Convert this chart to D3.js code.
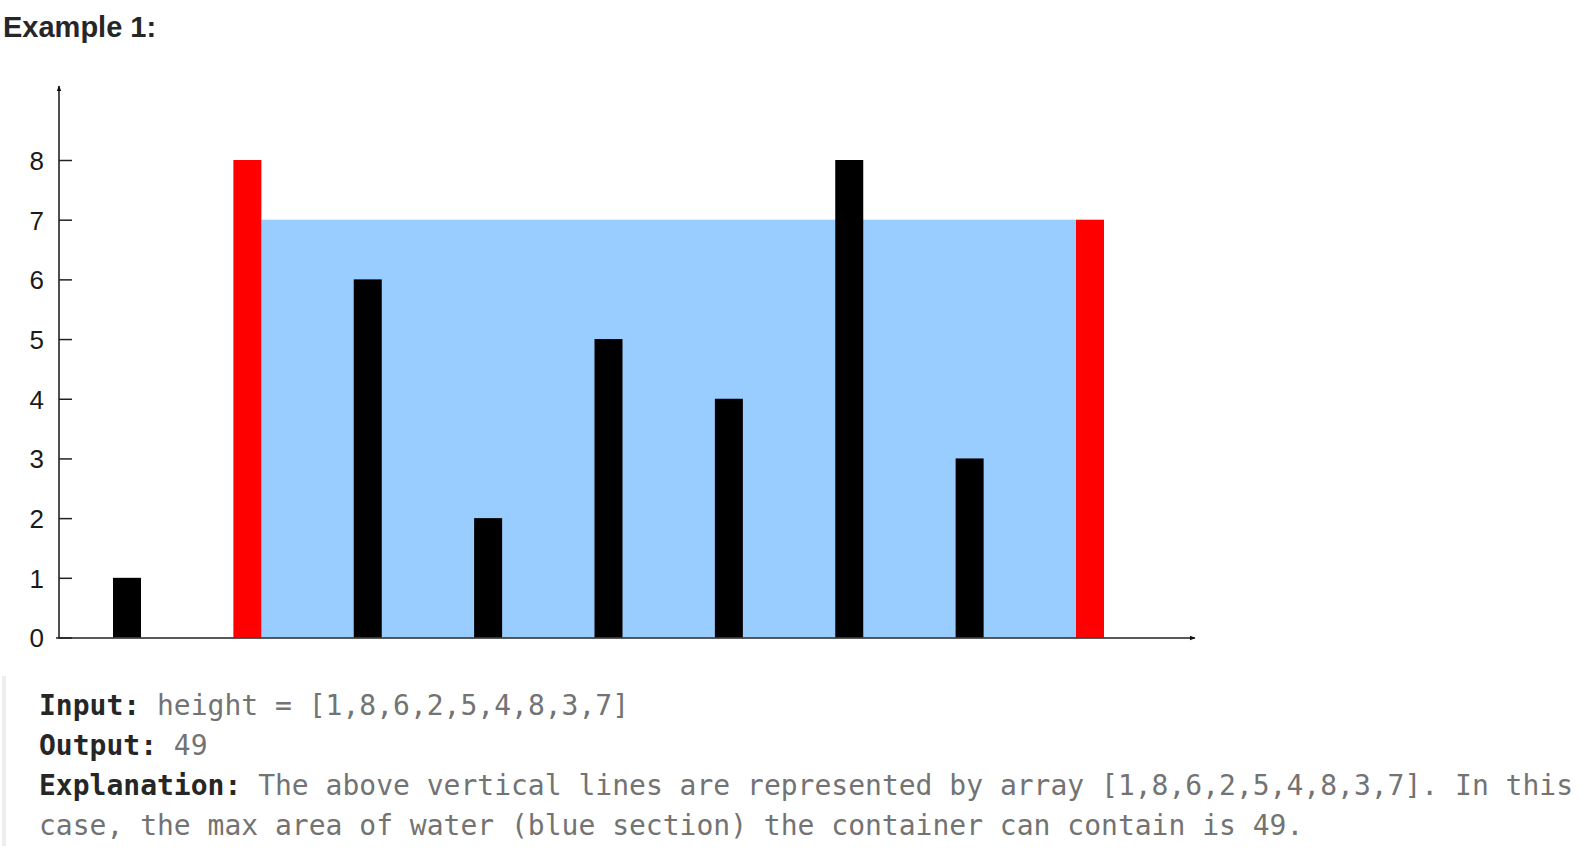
<!DOCTYPE html>
<html>
<head>
<meta charset="utf-8">
<script src="https://cdn.jsdelivr.net/npm/d3@7"></script>
<style>
  html, body { margin: 0; padding: 0; background: #fff; }
  svg { display: block; }
  .mono { font-family: "DejaVu Sans Mono", monospace; white-space: pre; }
</style>
</head>
<body>
<svg id="chart" width="1596" height="860"></svg>
<script>
// ---- data ----
const heights = [1, 8, 6, 2, 5, 4, 8, 3, 7];
const indices = heights.map((d, i) => i);
const yTicks = [0, 1, 2, 3, 4, 5, 6, 7, 8];
const walls = [1, 8];           // the two lines forming the container
const titleText = "Example 1:";

// ---- derived ----
const level = Math.min(heights[walls[0]], heights[walls[1]]);
const area = (walls[1] - walls[0]) * level;
const arr = "[" + heights.join(",") + "]";

const svg = d3.select("#chart");

// ---- scales ----
const x = d3.scaleLinear().domain([0, heights.length - 1]).range([127, 1090]);
const y = d3.scaleLinear().domain([0, 8]).range([637.5, 160]);
const barW = 28;

// arrow marker
const defs = svg.append("defs");
defs.append("marker")
  .attr("id", "arrow")
  .attr("viewBox", "0 0 10 10")
  .attr("refX", 9).attr("refY", 5)
  .attr("markerWidth", 6).attr("markerHeight", 6)
  .attr("markerUnits", "userSpaceOnUse")
  .attr("orient", "auto")
  .append("path").attr("d", "M0,1 L10,5 L0,9 Z").attr("fill", "#111");

// title
svg.append("text")
  .attr("x", 3).attr("y", 37)
  .attr("font-family", "'Liberation Sans', Arial, sans-serif")
  .attr("font-weight", "bold")
  .attr("font-size", 29)
  .attr("fill", "#262626")
  .text(titleText);

// water area
svg.append("rect")
  .attr("x", x(walls[0]) + barW / 2)
  .attr("width", x(walls[1]) - barW / 2 - (x(walls[0]) + barW / 2))
  .attr("y", y(level))
  .attr("height", y(0) - y(level))
  .attr("fill", "#99ccff");

// bars
svg.append("g").selectAll("rect")
  .data(indices)
  .join("rect")
  .attr("x", i => x(i) - barW / 2)
  .attr("width", barW)
  .attr("y", i => y(heights[i]))
  .attr("height", i => y(0) - y(heights[i]))
  .attr("fill", i => walls.includes(i) ? "#ff0000" : "#000000");

// y axis (ticks + labels)
const yAxis = d3.axisLeft(y).tickValues(yTicks).tickSize(-13).tickPadding(15).tickFormat(d3.format("d"));
const gy = svg.append("g").attr("transform", "translate(59,0)").call(yAxis);
gy.select(".domain").remove();
gy.selectAll(".tick line").attr("stroke", "#222").attr("stroke-width", 1.5);
gy.selectAll(".tick text")
  .attr("font-family", "'Liberation Sans', Arial, sans-serif")
  .attr("font-size", 26)
  .attr("fill", "#1a1a1a")
  .attr("dy", "0.36em");

// axis lines with arrows
svg.append("line")
  .attr("x1", 59).attr("y1", y(0) + 1)
  .attr("x2", 59).attr("y2", 86)
  .attr("stroke", "#222").attr("stroke-width", 1.6)
  .attr("marker-end", "url(#arrow)");
svg.append("line")
  .attr("x1", 56).attr("y1", y(0) + 0.5)
  .attr("x2", 1195).attr("y2", y(0) + 0.5)
  .attr("stroke", "#222").attr("stroke-width", 1.6)
  .attr("marker-end", "url(#arrow)");

// explanation block
svg.append("rect")
  .attr("x", 2).attr("y", 676).attr("width", 4).attr("height", 170)
  .attr("fill", "#eeeeee");

const lines = [
  [["Input:", true], [" height = " + arr, false]],
  [["Output:", true], [" " + area, false]],
  [["Explanation:", true], [" The above vertical lines are represented by array " + arr + ". In this", false]],
  [["case, the max area of water (blue section) the container can contain is " + area + ".", false]]
];
const tb = svg.append("g");
lines.forEach((parts, li) => {
  const t = tb.append("text")
    .attr("class", "mono")
    .attr("x", 39)
    .attr("y", 715 + li * 40)
    .attr("font-size", 28);
  parts.forEach(([s, bold]) => {
    t.append("tspan")
      .attr("font-weight", bold ? "bold" : "normal")
      .attr("fill", bold ? "#262626" : "#737373")
      .text(s);
  });
});
</script>
</body>
</html>
